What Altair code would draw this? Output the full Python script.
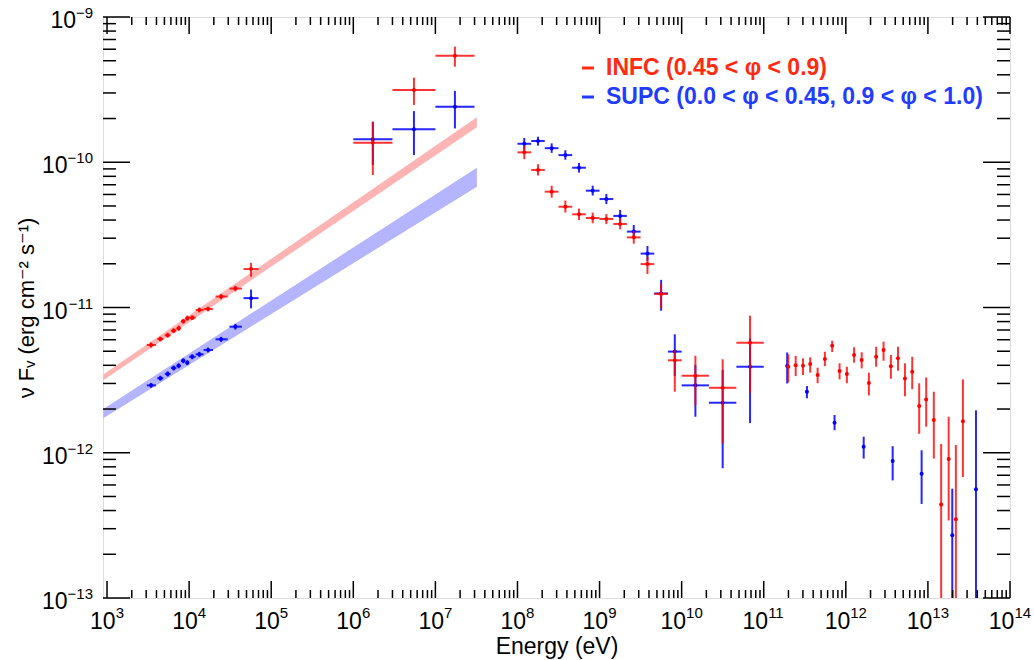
import altair as alt
import pandas as pd

# ---------------- data ----------------
# X-ray band
xray_E   = [3.44e3, 4.46e3, 5.48e3, 6.49e3, 7.46e3, 8.49e3, 9.50e3, 1.09e4, 1.33e4, 1.70e4, 2.45e4, 3.66e4, 5.68e4]
xray_Elo = [3.05e3, 4.10e3, 5.05e3, 6.00e3, 7.00e3, 7.95e3, 9.00e3, 1.00e4, 1.20e4, 1.50e4, 2.10e4, 3.10e4, 4.60e4]
xray_Ehi = [3.94e3, 4.85e3, 5.95e3, 7.00e3, 7.95e3, 9.00e3, 1.00e4, 1.20e4, 1.50e4, 1.95e4, 2.95e4, 4.40e4, 7.00e4]
red_xray_F   = [5.52e-12, 6.07e-12, 6.44e-12, 6.92e-12, 7.19e-12, 8.04e-12, 8.43e-12, 8.51e-12, 9.62e-12, 9.77e-12, 1.19e-11, 1.35e-11, 1.84e-11]
red_xray_Flo = [5.30e-12, 5.85e-12, 6.20e-12, 6.65e-12, 6.90e-12, 7.75e-12, 8.10e-12, 8.20e-12, 9.25e-12, 9.40e-12, 1.14e-11, 1.29e-11, 1.63e-11]
red_xray_Fhi = [5.75e-12, 6.30e-12, 6.70e-12, 7.20e-12, 7.50e-12, 8.35e-12, 8.80e-12, 8.85e-12, 1.00e-11, 1.015e-11, 1.24e-11, 1.41e-11, 2.03e-11]
blue_xray_F   = [2.91e-12, 3.26e-12, 3.49e-12, 3.83e-12, 3.97e-12, 4.30e-12, 4.17e-12, 4.58e-12, 4.76e-12, 5.10e-12, 6.04e-12, 7.38e-12, 1.16e-11]
blue_xray_Flo = [2.80e-12, 3.13e-12, 3.35e-12, 3.68e-12, 3.81e-12, 4.13e-12, 4.00e-12, 4.40e-12, 4.57e-12, 4.90e-12, 5.80e-12, 7.05e-12, 9.87e-12]
blue_xray_Fhi = [3.02e-12, 3.39e-12, 3.63e-12, 3.98e-12, 4.13e-12, 4.47e-12, 4.34e-12, 4.76e-12, 4.95e-12, 5.30e-12, 6.28e-12, 7.72e-12, 1.33e-11]

# MeV band
mev_E   = [1.73e6, 5.48e6, 1.73e7]
mev_Elo = [1.0e6, 3.0e6, 1.0e7]
mev_Ehi = [3.0e6, 1.0e7, 3.0e7]
red_mev_F   = [1.36e-10, 3.14e-10, 5.42e-10]
red_mev_Flo = [8.17e-11, 2.48e-10, 4.55e-10]
red_mev_Fhi = [1.90e-10, 3.82e-10, 6.25e-10]
blue_mev_F   = [1.44e-10, 1.69e-10, 2.41e-10]
blue_mev_Flo = [9.57e-11, 1.12e-10, 1.71e-10]
blue_mev_Fhi = [1.90e-10, 2.25e-10, 3.10e-10]

# GeV band
gev_E   = [1.21e8, 1.78e8, 2.61e8, 3.83e8, 5.62e8, 8.25e8, 1.21e9, 1.78e9, 2.61e9, 3.83e9, 5.62e9, 8.25e9, 1.47e10, 3.16e10, 6.81e10]
gev_Elo = [1.00e8, 1.47e8, 2.15e8, 3.16e8, 4.64e8, 6.81e8, 1.00e9, 1.47e9, 2.15e9, 3.16e9, 4.64e9, 6.81e9, 1.00e10, 2.15e10, 4.64e10]
gev_Ehi = [1.47e8, 2.15e8, 3.16e8, 4.64e8, 6.81e8, 1.00e9, 1.47e9, 2.15e9, 3.16e9, 4.64e9, 6.81e9, 1.00e10, 2.15e10, 4.64e10, 1.00e11]
red_gev_F   = [1.17e-10, 8.85e-11, 6.27e-11, 4.94e-11, 4.38e-11, 4.13e-11, 4.07e-11, 3.76e-11, 3.04e-11, 1.99e-11, 1.24e-11, 4.33e-12, 3.39e-12, 2.80e-12, 5.72e-12]
red_gev_Flo = [1.05e-10, 8.10e-11, 5.70e-11, 4.50e-11, 4.00e-11, 3.80e-11, 3.75e-11, 3.45e-11, 2.75e-11, 1.70e-11, 9.90e-12, 2.63e-12, 2.13e-12, 1.16e-12, 2.59e-12]
red_gev_Fhi = [1.30e-10, 9.70e-11, 6.90e-11, 5.45e-11, 4.80e-11, 4.50e-11, 4.40e-11, 4.10e-11, 3.35e-11, 2.24e-11, 1.47e-11, 5.09e-12, 4.65e-12, 4.40e-12, 8.79e-12]
blue_gev_F   = [1.34e-10, 1.40e-10, 1.25e-10, 1.12e-10, 9.17e-11, 6.37e-11, 5.58e-11, 4.27e-11, 3.33e-11, 2.35e-11, 1.25e-11, 4.97e-12, 2.91e-12, 2.21e-12, 3.91e-12]
blue_gev_Flo = [1.22e-10, 1.30e-10, 1.16e-10, 1.04e-10, 8.50e-11, 5.90e-11, 5.15e-11, 3.90e-11, 3.00e-11, 2.10e-11, 9.50e-12, 3.38e-12, 1.77e-12, 7.82e-13, 1.60e-12]
blue_gev_Fhi = [1.47e-10, 1.50e-10, 1.35e-10, 1.21e-10, 9.90e-11, 6.90e-11, 6.05e-11, 4.70e-11, 3.70e-11, 2.65e-11, 1.55e-11, 6.54e-12, 4.02e-12, 3.72e-12, 6.13e-12]

# TeV band (no energy error bars)
red_tev_E   = [1.99e11, 2.45e11, 3.01e11, 3.68e11, 4.53e11, 5.56e11, 6.82e11, 8.39e11, 1.03e12, 1.26e12, 1.56e12, 1.91e12, 2.34e12,
               2.88e12, 3.54e12, 4.32e12, 5.25e12, 6.44e12, 7.83e12, 9.53e12, 1.18e13, 1.45e13, 1.79e13, 2.19e13, 2.67e13]
red_tev_F   = [3.91e-12, 4.00e-12, 3.97e-12, 4.08e-12, 3.43e-12, 4.42e-12, 5.46e-12, 3.65e-12, 3.48e-12, 4.71e-12, 4.35e-12, 3.02e-12, 4.58e-12,
               5.09e-12, 3.94e-12, 4.47e-12, 3.25e-12, 3.61e-12, 2.10e-12, 2.33e-12, 1.68e-12, 4.40e-13, 9.06e-13, 3.48e-13, 1.65e-12]
red_tev_Flo = [3.05e-12, 3.37e-12, 3.43e-12, 3.56e-12, 3.01e-12, 3.95e-12, 4.94e-12, 3.20e-12, 3.01e-12, 4.17e-12, 3.81e-12, 2.48e-12, 3.91e-12,
               4.30e-12, 3.23e-12, 3.67e-12, 2.45e-12, 2.74e-12, 1.35e-12, 1.51e-12, 9.12e-13, 1.0e-13, 3.42e-13, 1.0e-13, 6.81e-13]
red_tev_Fhi = [4.76e-12, 4.64e-12, 4.47e-12, 4.54e-12, 3.85e-12, 4.96e-12, 5.91e-12, 4.13e-12, 3.91e-12, 5.32e-12, 4.92e-12, 3.56e-12, 5.37e-12,
               5.82e-12, 4.71e-12, 5.37e-12, 4.13e-12, 4.58e-12, 3.01e-12, 3.30e-12, 2.63e-12, 1.15e-12, 1.77e-12, 1.13e-12, 3.20e-12]
blue_tev_E   = [1.93e11, 3.36e11, 7.29e11, 1.65e12, 3.72e12, 8.38e12, 1.98e13, 3.85e13]
blue_tev_F   = [3.95e-12, 2.63e-12, 1.61e-12, 1.10e-12, 8.78e-13, 7.18e-13, 2.70e-13, 5.60e-13]
blue_tev_Flo = [3.00e-12, 2.37e-12, 1.43e-12, 9.12e-13, 6.45e-13, 4.44e-13, 1.0e-13, 1.0e-13]
blue_tev_Fhi = [4.90e-12, 2.88e-12, 1.82e-12, 1.29e-12, 1.11e-12, 1.04e-12, 5.66e-13, 1.96e-12]

# power-law bands
band_E = [900, 3.2e7]
red_band_lo  = [3.15e-12, 1.74e-10]
red_band_hi  = [3.46e-12, 2.04e-10]
blue_band_lo = [1.73e-12, 6.79e-11]
blue_band_hi = [2.00e-12, 9.17e-11]

# axis ticks / labels
x_major = [1e3, 1e4, 1e5, 1e6, 1e7, 1e8, 1e9, 1e10, 1e11, 1e12, 1e13, 1e14]
x_exp = ["3", "4", "5", "6", "7", "8", "9", "10", "11", "12", "13", "14"]
y_major = [1e-13, 1e-12, 1e-11, 1e-10, 1e-9]
y_exp = ["−13", "−12", "−11", "−10", "−9"]
mantissas = [2, 3, 4, 5, 6, 7, 8, 9]
x_minor = [m * d for d in x_major[:-1] for m in mantissas]
y_minor = [m * d for d in y_major[:-1] for m in mantissas]

legend_labels = ["INFC (0.45 < φ < 0.9)", "SUPC (0.0 < φ < 0.45, 0.9 < φ < 1.0)"]

# ---------------- styling ----------------
FONT = "Liberation Sans, Arial, Helvetica, DejaVu Sans"
RED = "#ff0000"
BLUE = "#0000ff"
RED_TXT = "#ff2a10"
BLUE_TXT = "#1f3cff"
W, H = 907, 581

XDOM = [893, 1e14]
YDOM = [1e-13, 1e-9]
xscale = alt.Scale(type="log", domain=XDOM, nice=False)
yscale = alt.Scale(type="log", domain=YDOM, nice=False)

xaxis = alt.Axis(labels=False, ticks=False, domain=False, grid=False,
                 title="Energy (eV)", titleFont=FONT, titleFontSize=23, titleFontWeight="normal",
                 titleColor="black", titleBaseline="alphabetic", titleY=55)
yaxis = alt.Axis(labels=False, ticks=False, domain=False, grid=False,
                 title="ν Fᵥ (erg cm⁻² s⁻¹)", titleFont=FONT, titleFontSize=22, titleFontWeight="normal",
                 titleColor="black", titleBaseline="alphabetic", titleX=-70)


def X(field):
    return alt.X(field, type="quantitative", scale=xscale, axis=xaxis)


def Y(field):
    return alt.Y(field, type="quantitative", scale=yscale, axis=yaxis)


def xerr_df(E, Elo, Ehi, F):
    return pd.DataFrame({"E": E, "Elo": Elo, "Ehi": Ehi, "F": F})


def pts_df(E, F, Flo, Fhi):
    return pd.DataFrame({"E": E, "F": F, "Flo": Flo, "Fhi": Fhi})


red_xerr = pd.concat([xerr_df(xray_E, xray_Elo, xray_Ehi, red_xray_F),
                      xerr_df(mev_E, mev_Elo, mev_Ehi, red_mev_F),
                      xerr_df(gev_E, gev_Elo, gev_Ehi, red_gev_F)])
blue_xerr = pd.concat([xerr_df(xray_E, xray_Elo, xray_Ehi, blue_xray_F),
                       xerr_df(mev_E, mev_Elo, mev_Ehi, blue_mev_F),
                       xerr_df(gev_E, gev_Elo, gev_Ehi, blue_gev_F)])
red_pts = pd.concat([pts_df(xray_E, red_xray_F, red_xray_Flo, red_xray_Fhi),
                     pts_df(mev_E, red_mev_F, red_mev_Flo, red_mev_Fhi),
                     pts_df(gev_E, red_gev_F, red_gev_Flo, red_gev_Fhi),
                     pts_df(red_tev_E, red_tev_F, red_tev_Flo, red_tev_Fhi)])
blue_pts = pd.concat([pts_df(xray_E, blue_xray_F, blue_xray_Flo, blue_xray_Fhi),
                      pts_df(mev_E, blue_mev_F, blue_mev_Flo, blue_mev_Fhi),
                      pts_df(gev_E, blue_gev_F, blue_gev_Flo, blue_gev_Fhi),
                      pts_df(blue_tev_E, blue_tev_F, blue_tev_Flo, blue_tev_Fhi)])

red_band = pd.DataFrame({"E": band_E, "lo": red_band_lo, "hi": red_band_hi})
blue_band = pd.DataFrame({"E": band_E, "lo": blue_band_lo, "hi": blue_band_hi})


def band(df, color):
    return alt.Chart(df).mark_area(color=color, opacity=1, clip=True).encode(
        x=X("E"), y=Y("lo"), y2="hi")


def series(xe, pts, color, op):
    xr = alt.Chart(xe).mark_rule(color=color, strokeWidth=2, opacity=op, clip=True).encode(
        x=X("Elo"), x2="Ehi", y=Y("F"))
    yr = alt.Chart(pts).mark_rule(color=color, strokeWidth=2, opacity=op, clip=True).encode(
        x=X("E"), y=Y("Flo"), y2="Fhi")
    dots = alt.Chart(pts).mark_circle(color=color, size=16, opacity=1, clip=True).encode(
        x=X("E"), y=Y("F"))
    return [xr, yr, dots]


xmaj_df = pd.DataFrame({"t": x_major, "exp": x_exp})
xmin_df = pd.DataFrame({"t": x_minor})
ymaj_df = pd.DataFrame({"t": y_major, "exp": y_exp})
ymin_df = pd.DataFrame({"t": y_minor})


def xticks(df, length):
    bottom = alt.Chart(df).mark_rule(color="black", strokeWidth=1.5).encode(
        x=X("t"), y=alt.value(H), y2=alt.value(H - length))
    top = alt.Chart(df).mark_rule(color="black", strokeWidth=1.5).encode(
        x=X("t"), y=alt.value(0), y2=alt.value(length))
    return [bottom, top]


def yticks(df, length):
    left = alt.Chart(df).mark_rule(color="black", strokeWidth=1.5).encode(
        y=Y("t"), x=alt.value(0), x2=alt.value(length))
    right = alt.Chart(df).mark_rule(color="black", strokeWidth=1.5).encode(
        y=Y("t"), x=alt.value(W), x2=alt.value(W - length))
    return [left, right]


def xlabels(df, shift):
    base = alt.Chart(df).mark_text(text="10", align="right", baseline="alphabetic", dx=shift,
                                   font=FONT, fontSize=23, color="black").encode(
        x=X("t"), y=alt.value(H + 31))
    sup = alt.Chart(df).mark_text(align="left", baseline="alphabetic", dx=shift,
                                  font=FONT, fontSize=15, color="black").encode(
        x=X("t"), y=alt.value(H + 20), text="exp:N")
    return [base, sup]


def ylabels(df, exp_width):
    base = alt.Chart(df).mark_text(text="10", align="right", baseline="alphabetic", dy=11,
                                   font=FONT, fontSize=23, color="black").encode(
        y=Y("t"), x=alt.value(-10 - exp_width))
    sup = alt.Chart(df).mark_text(align="right", baseline="alphabetic", dy=1,
                                  font=FONT, fontSize=15, color="black").encode(
        y=Y("t"), x=alt.value(-10), text="exp:N")
    return [base, sup]


leg_df = pd.DataFrame({"label": legend_labels, "color": [RED_TXT, BLUE_TXT]})


def legend_row(i, ypos):
    d = leg_df.iloc[[i]]
    dash = alt.Chart(d).mark_rule(strokeWidth=3).encode(
        x=alt.value(479), x2=alt.value(491), y=alt.value(ypos), color=alt.Color("color:N", scale=None))
    txt = alt.Chart(d).mark_text(align="left", baseline="middle", font=FONT,
                                 fontSize=23, fontWeight="bold").encode(
        x=alt.value(503), y=alt.value(ypos), text="label:N", color=alt.Color("color:N", scale=None))
    return [dash, txt]


layers = [band(red_band, "#ffb4b4"), band(blue_band, "#b4b4ff")]
layers += series(blue_xerr, blue_pts, BLUE, 0.85)
layers += series(red_xerr, red_pts, RED, 0.8)
layers += xticks(xmaj_df, 17) + xticks(xmin_df, 8)
layers += yticks(ymaj_df, 27) + yticks(ymin_df, 13)
layers += xlabels(xmaj_df.iloc[:7], 8.6) + xlabels(xmaj_df.iloc[7:], 4.4)
layers += ylabels(ymaj_df.iloc[:4], 25.5) + ylabels(ymaj_df.iloc[4:], 17)
layers += legend_row(0, 51) + legend_row(1, 80)

chart = alt.layer(*layers).properties(
    width=W, height=H,
    padding={"left": 103, "top": 17, "right": 24, "bottom": 62},
    autosize="none",
).configure_view(stroke="black", strokeWidth=2).configure(background="white")

chart.save("out.html", embed_options={"renderer": "svg", "actions": False})
